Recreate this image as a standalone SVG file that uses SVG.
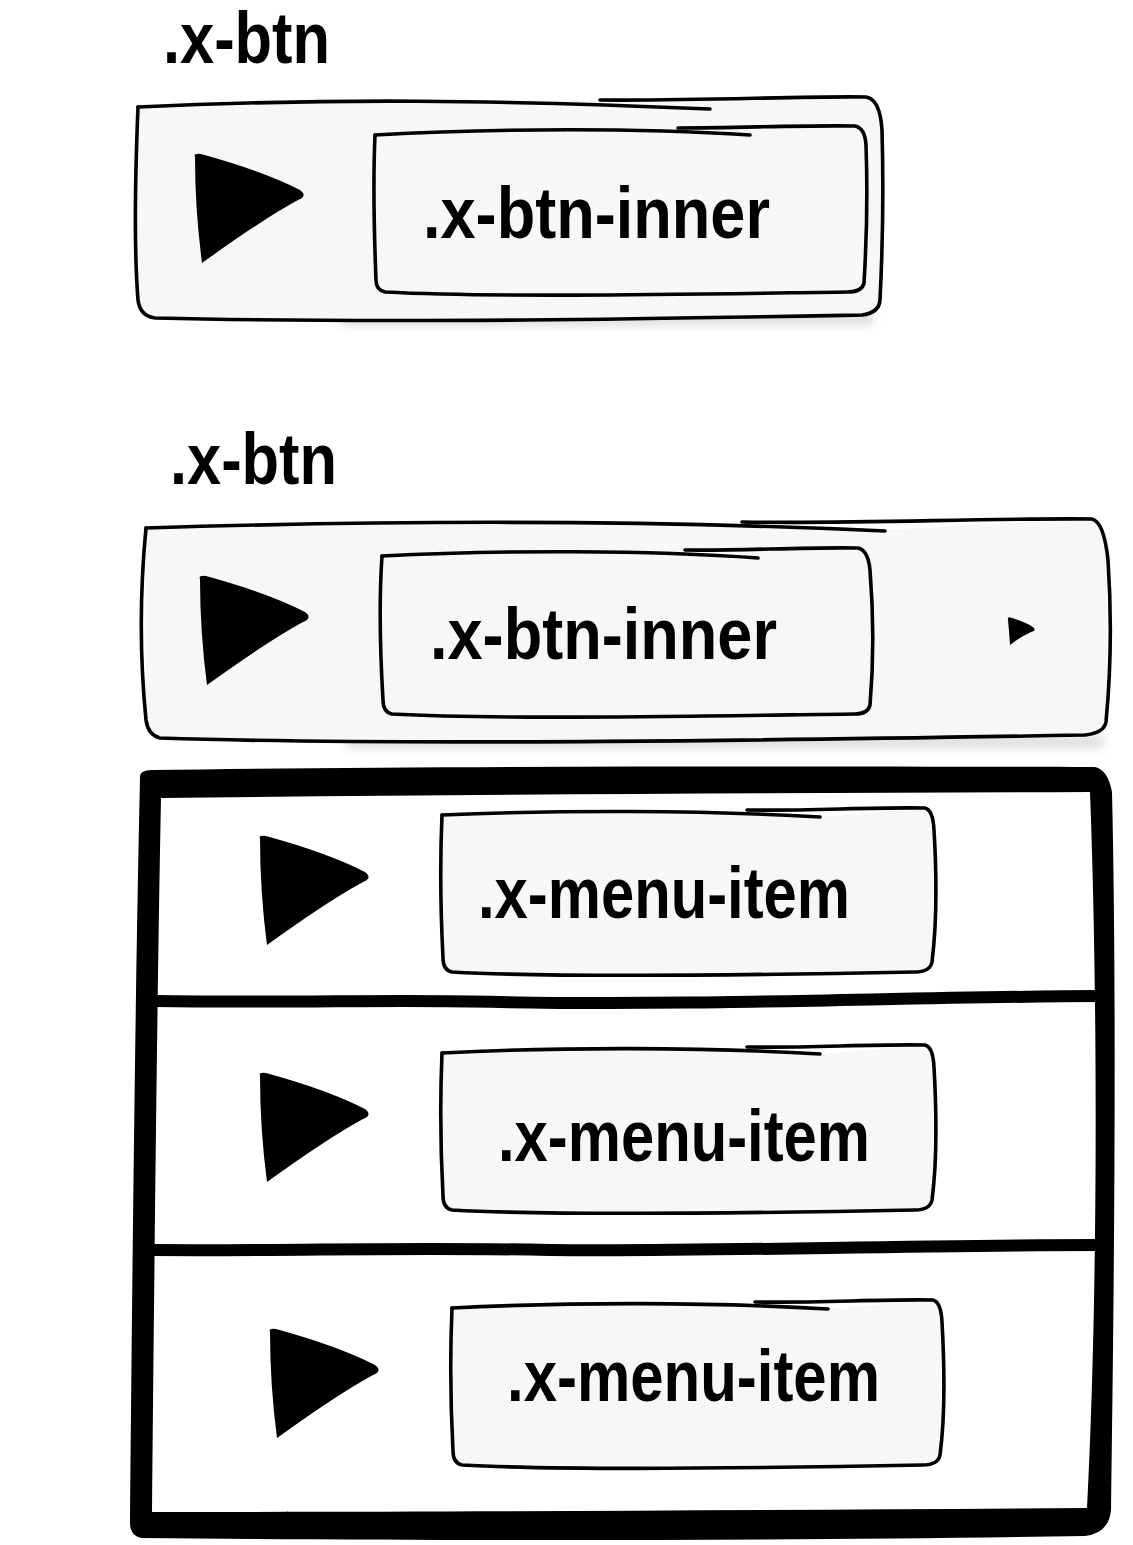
<svg xmlns="http://www.w3.org/2000/svg" xmlns:xlink="http://www.w3.org/1999/xlink" width="1133" height="1545" viewBox="0 0 1133 1545">
<style>
.box{fill:#f7f7f7;stroke:none}
.ln{fill:none;stroke:#000;stroke-width:3.6;stroke-linecap:round;stroke-linejoin:round}
.lbl{font-family:"Liberation Sans",Arial,sans-serif;font-weight:bold;font-size:72px;fill:#000}
.tri{fill:#000}
</style>
<defs>
<path id="tri" d="M2,4 Q0,0 8,1 Q70,18 107,37 Q115,43 105,47 Q70,66 9,110 Q2,57 2,4 Z"/>
<filter id="blur" x="-20%" y="-200%" width="140%" height="500%"><feGaussianBlur stdDeviation="5"/></filter>
</defs>
<rect width="1133" height="1545" fill="#fff"/>

<g id="btn1">
<text class="lbl" x="163" y="63" textLength="167" lengthAdjust="spacingAndGlyphs">.x-btn</text>
<rect x="340" y="312" width="535" height="14" rx="7" fill="#000" opacity="0.12" filter="url(#blur)"/>
<path class="box" d="M138,107 C330,98 500,100 700,101 C780,99 830,97 866,97 Q880,99 882,130 L880,300 Q879,313 862,315 C700,318 400,324 155,318 Q140,316 138,300 L136,200 Z"/>
<path class="ln" d="M138,107 C330,98 500,100 710,109"/>
<path class="ln" d="M600,100 C700,101 800,96 866,97 Q880,99 882,130 C884,200 882,260 880,300 Q879,313 862,315 C700,318 400,324 155,318 Q140,316 138,300 C134,250 135,180 138,107"/>
<g id="btn1-inner">
<path class="box" d="M375,135 C500,128 640,128 750,135 L855,126 Q865,128 866,145 L864,283 Q862,292 848,292 C700,294 500,298 385,292 Q376,290 376,280 Z"/>
<path class="ln" d="M375,135 C500,128 640,128 750,135"/>
<path class="ln" d="M678,128 C740,128 800,125 855,126 Q865,128 866,145 C868,200 866,250 864,283 Q862,292 848,292 C700,294 500,298 385,292 Q376,290 376,280 C374,230 373,180 375,135"/>
<text class="lbl" x="423" y="238" textLength="347" lengthAdjust="spacingAndGlyphs">.x-btn-inner</text>
</g>
<use href="#tri" x="193" y="153" class="tri"/>
</g>

<g id="btn2">
<text class="lbl" x="170" y="484" textLength="167" lengthAdjust="spacingAndGlyphs">.x-btn</text>
<rect x="345" y="735" width="760" height="14" rx="7" fill="#000" opacity="0.12" filter="url(#blur)"/>
<path class="box" d="M146,528 C400,520 650,520 885,530 L1092,519 Q1104,522 1108,560 L1106,722 Q1104,733 1085,735 C800,740 400,746 160,738 Q148,735 146,720 Z"/>
<path class="ln" d="M146,528 C400,520 650,520 885,531"/>
<path class="ln" d="M742,522 C860,524 980,518 1092,519 Q1104,522 1108,560 C1112,620 1110,680 1106,722 Q1104,733 1085,735 C800,740 400,746 160,738 Q148,735 146,720 C140,660 140,590 146,528"/>
<g id="btn2-inner">
<path class="box" d="M382,556 C500,550 650,550 758,558 L858,548 Q868,550 870,570 L870,705 Q868,714 855,714 C700,716 500,720 392,714 Q383,712 383,700 Z"/>
<path class="ln" d="M382,556 C500,550 650,550 758,558"/>
<path class="ln" d="M685,550 C740,551 800,547 858,548 Q868,550 870,570 C874,620 873,670 870,705 Q868,714 855,714 C700,716 500,720 392,714 Q383,712 383,700 C380,650 379,600 382,556"/>
<text class="lbl" x="430" y="659" textLength="347" lengthAdjust="spacingAndGlyphs">.x-btn-inner</text>
</g>
<use href="#tri" x="198" y="575" class="tri"/>
<path class="tri" d="M1008,620 Q1007,616 1012,618 Q1028,623 1034,628 Q1036,631 1031,632 Q1020,637 1010,645 Q1009,630 1008,620 Z"/>
</g>

<g id="menu">
<path fill="#000" fill-rule="evenodd" d="M140,778 Q139,770 152,770 C400,766 800,766 1095,767 Q1108,770 1112,792 C1117,1000 1114,1300 1111,1510 Q1109,1533 1085,1536 C800,1541 400,1541 142,1538 Q129,1536 130,1520 C132,1300 135,1000 140,778 Z M161,798 C500,794 800,793 1090,792 C1098,1000 1098,1300 1087,1508 C800,1510 500,1512 152,1512 C154,1300 157,1000 161,798 Z"/>
<path fill="none" stroke="#000" stroke-width="12" d="M155,1001 C300,1003 400,999 500,1002 C700,1006 900,997 1100,996"/>
<path fill="none" stroke="#000" stroke-width="12" d="M152,1250 C300,1251 400,1247 550,1250 C700,1252 900,1245 1100,1245"/>

<g id="item1">
<path class="box" d="M442,815 C560,810 700,810 820,817 L925,808 Q933,810 934,830 L932,962 Q930,972 915,972 C760,975 560,978 452,972 Q443,970 443,958 Z"/>
<path class="ln" d="M442,815 C560,810 700,810 820,817"/>
<path class="ln" d="M747,810 C810,811 870,807 925,808 Q933,810 934,830 C937,880 936,930 932,962 Q930,972 915,972 C760,975 560,978 452,972 Q443,970 443,958 C440,900 440,860 442,815"/>
<text class="lbl" x="478" y="918" textLength="372" lengthAdjust="spacingAndGlyphs">.x-menu-item</text>
<use href="#tri" x="258" y="835" class="tri"/>
</g>

<g id="item2">
<path class="box" d="M442,1053 C560,1047 700,1047 820,1054 L925,1045 Q933,1047 934,1067 L932,1200 Q930,1210 915,1210 C760,1213 560,1216 452,1210 Q443,1208 443,1196 Z"/>
<path class="ln" d="M442,1053 C560,1047 700,1047 820,1054"/>
<path class="ln" d="M747,1047 C810,1048 870,1044 925,1045 Q933,1047 934,1067 C937,1120 936,1170 932,1200 Q930,1210 915,1210 C760,1213 560,1216 452,1210 Q443,1208 443,1196 C440,1140 440,1100 442,1053"/>
<text class="lbl" x="498" y="1161" textLength="372" lengthAdjust="spacingAndGlyphs">.x-menu-item</text>
<use href="#tri" x="258" y="1072" class="tri"/>
</g>

<g id="item3">
<path class="box" d="M452,1308 C570,1302 710,1302 828,1309 L933,1300 Q941,1302 942,1322 L940,1455 Q938,1465 923,1465 C770,1468 570,1471 462,1465 Q453,1463 453,1451 Z"/>
<path class="ln" d="M452,1308 C570,1302 710,1302 828,1309"/>
<path class="ln" d="M755,1302 C820,1303 880,1299 933,1300 Q941,1302 942,1322 C945,1375 944,1425 940,1455 Q938,1465 923,1465 C770,1468 570,1471 462,1465 Q453,1463 453,1451 C450,1395 450,1355 452,1308"/>
<text class="lbl" x="507" y="1401" textLength="373" lengthAdjust="spacingAndGlyphs">.x-menu-item</text>
<use href="#tri" x="268" y="1328" class="tri"/>
</g>
</g>
<g id="connectors"/>
</svg>
